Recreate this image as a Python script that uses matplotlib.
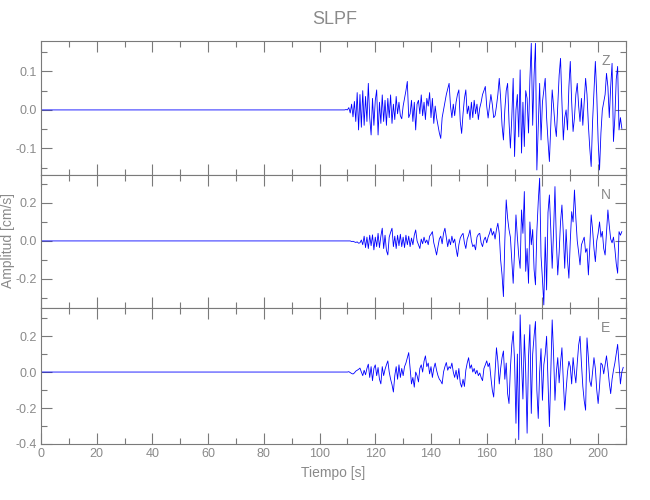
import numpy as np
import matplotlib
matplotlib.use("Agg")
import matplotlib.pyplot as plt
from matplotlib.ticker import MultipleLocator, FormatStrFormatter
from matplotlib import font_manager

names = {f.name for f in font_manager.fontManager.ttflist}
fam = [f for f in ["Liberation Sans Narrow", "Liberation Sans", "DejaVu Sans"] if f in names]
plt.rcParams["font.family"] = fam

title = "SLPF"
xlabel = "Tiempo [s]"
ylabel = "Amplitud [cm/s]"
components = ["Z", "N", "E"]

# quiet pre-event baseline then samples every 0.5 s starting at 108 s (values in 1e-3 cm/s)
pre_time = 0.0
t_start = 108.0
dt = 0.5

z_vals = [0, 0, 0, 1, 0, 6, -8, 15, -18, 22, -30, 45, -52, 40, -45, 50, -40, 35, -30, 69,
          -20, -65, 30, -40, 25, 52, -65, 20, -35, 39, -30, 25, -40, 30, -20, 39, -35, 15, -25, 35,
          -10, 20, -15, -23, 10, 30, 50, 74, -20, -10, 25, -30, 20, -52, 15, 25, -10, 39, -15, 20,
          -25, 30, 10, 45, -20, 30, -35, 10, -20, -40, -60, -74, -20, 0, 20, 40, 55, 69, 10, -20,
          15, -15, 20, 40, 52, -30, -61, -10, 30, 52, -10, 10, -25, 20, -20, 25, -10, 15, -25, 5,
          20, 40, 50, 61, 10, -21, 10, 40, 15, -20, -15, 10, 40, 82, 30, -40, -78, 0, 50, 69,
          -30, -99, -20, 82, -121, 0, 40, -70, 104, -112, 20, -95, 50, 30, -60, 80, 173, -40, 90, 173,
          -156, -40, 69, -78, 20, 50, 82, -20, -80, -134, -40, 52, 10, -40, -69, 10, 90, 134, 20, -78,
          -20, 0, -52, 60, 126, 20, -56, -20, 40, 69, 10, -30, 30, -40, 20, 82, 40, -40, -100, -147,
          -30, 50, 126, 40, -80, -156, -60, 0, 20, 40, 95, 60, -20, 60, 121, -82, -20, 80, 113, -52,
          -20, -48]

n_vals = [0, 0, 0, 0, 0, 0, 0, -3, -2, -5, -8, -5, -12, -10, 5, -20, 25, -35, 20, -40,
          30, -25, 32, -47, 20, -30, 40, -35, 25, 67, -40, 30, -50, -74, 20, 45, 67, -30, 25, -40,
          30, -25, 35, -30, 20, -35, 30, -20, 25, -30, 15, -20, 30, 58, 0, -20, -40, 10, -15, 20,
          -10, 5, -20, 25, 35, 49, -10, -40, -74, -30, 10, 25, -15, 40, 67, 20, -30, 10, -20, 25,
          -10, 10, -40, -82, -20, 15, 30, 40, -10, -40, 10, 30, 58, 0, -30, -20, -47, 20, 35, 40,
          -10, -30, 5, 20, -10, 20, 40, 67, 30, 50, 10, 60, 93, 40, -100, -179, -293, 0, 216, 120,
          60, 20, -100, -223, -50, 137, 20, -80, -144, 163, 40, 260, -160, -40, -223, 100, -20, 60, -150, -231,
          50, 207, 330, -80, -200, -337, 20, -258, 150, 242, 60, -144, 50, 286, 0, -179, -60, 100, 189, 40,
          -144, 60, -100, -196, 0, 154, 100, 268, 120, 0, -60, -126, -20, 0, 20, -60, -40, -179, -30, 137,
          60, -40, -109, 0, 40, 100, 20, 50, -40, -74, 40, 163, 80, 10, -10, 20, -40, -120, -170, 49,
          30, 49]

e_vals = [0, 0, 0, 0, 0, 2, -3, -8, -11, -5, 5, 10, 15, 22, 0, -20, 10, -15, 20, 44,
          -30, 30, -48, 20, 40, -20, 25, -40, -66, 30, -20, 15, 40, 62, 0, -40, -70, -111, -20, 30,
          -40, 40, -30, 20, -20, 30, 50, 80, 108, 20, -66, -30, -84, 0, -20, -55, 20, 40, 0, 60,
          90, 30, 50, -10, 30, -30, 20, 50, 10, -20, -40, -50, -66, 0, 30, 53, 10, 30, 20, 50,
          0, -30, 10, -40, 20, -60, -84, -40, -80, 10, 50, 80, 20, 40, 0, 20, -10, 10, -20, -5,
          -30, -48, 20, 40, 62, 30, 50, -30, -100, -139, 0, 135, 60, -66, 20, 80, 117, -40, 50, -120,
          -175, 20, 150, 226, 60, -285, 100, -376, 318, 50, -150, 208, 0, -340, 80, 263, -230, 100, 200, 281,
          -100, -258, 0, 130, -157, 40, 100, 199, -50, -303, 0, 290, 100, -157, 0, 80, -60, 50, 135, -50,
          -212, -100, 0, 60, 30, -66, 80, 0, -60, 50, 150, 199, 50, -80, -160, -212, 190, 80, -50, -80,
          0, 80, 20, -100, -175, -80, 50, 40, -10, 40, 90, 20, -60, -120, -40, 10, 50, 100, 154, 40,
          -66, 0, 26]

traces = [z_vals, n_vals, e_vals]
ylims = [(-0.169, 0.179), (-0.353, 0.347), (-0.40, 0.356)]
y_major = [0.1, 0.2, 0.2]
y_minor = [0.05, 0.1, 0.1]

gray = "#7a7a7a"
txt = "#8a8a8a"

fig = plt.figure(figsize=(6.5, 5.0), dpi=100)
boxes = [(41, 41, 175), (41, 175, 308), (41, 308, 444)]
axes = []
for (x0, ytop, ybot) in boxes:
    left = x0 / 650
    width = (626 - 41) / 650
    bottom = 1 - ybot / 500
    height = (ybot - ytop) / 500
    axes.append(fig.add_axes([left, bottom, width, height]))

for i, ax in enumerate(axes):
    vals = np.array(traces[i], dtype=float) / 1000.0
    t = t_start + dt * np.arange(len(vals))
    tt = np.concatenate([[pre_time], t])
    vv = np.concatenate([[0.0], vals])
    ax.plot(tt, vv, color="#0000ff", lw=0.6)
    ax.set_xlim(0, 210)
    ax.set_ylim(*ylims[i])
    ax.xaxis.set_major_locator(MultipleLocator(20))
    ax.xaxis.set_minor_locator(MultipleLocator(10))
    ax.yaxis.set_major_locator(MultipleLocator(y_major[i]))
    ax.yaxis.set_minor_locator(MultipleLocator(y_minor[i]))
    ax.yaxis.set_major_formatter(FormatStrFormatter("%.1f"))
    ax.tick_params(which="both", direction="in", top=True, right=True,
                   color=gray, labelcolor=txt, labelsize=9, width=0.8)
    ax.tick_params(which="major", length=8, pad=3)
    ax.tick_params(which="minor", length=4)
    for s in ax.spines.values():
        s.set_color(gray)
        s.set_linewidth(0.8)
    if i < 2:
        ax.tick_params(labelbottom=False)
    ax.text(0.965, 0.85, components[i], transform=ax.transAxes, color=txt,
            fontsize=10, ha="center", va="center")

axes[2].set_xlabel(xlabel, color=txt, fontsize=10, labelpad=4)
fig.text(8 / 650, 1 - 241 / 500, ylabel, color=txt, fontsize=10,
         ha="center", va="center", rotation=90)
fig.text(335 / 650, 1 - 20 / 500, title, color=txt, fontsize=13, ha="center", va="center")

fig.savefig("out.png", dpi=100)
